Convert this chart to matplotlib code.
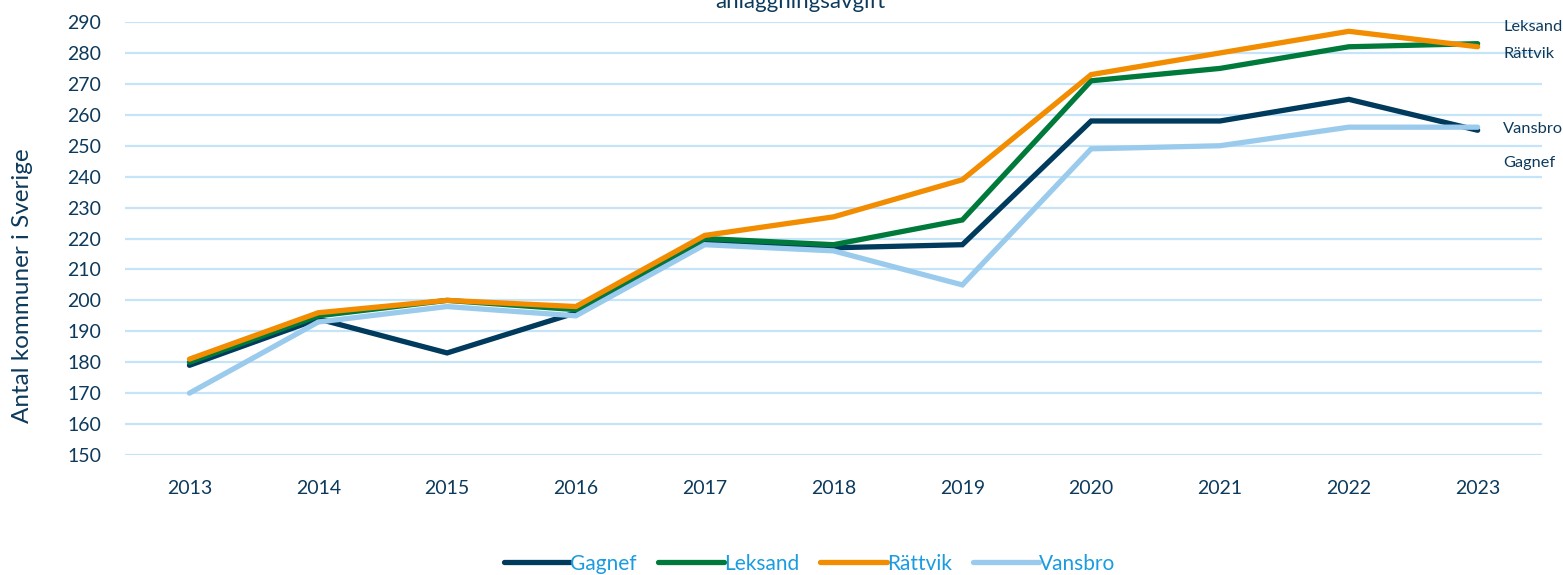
import matplotlib.pyplot as plt

# data
years = ["2013", "2014", "2015", "2016", "2017", "2018", "2019", "2020", "2021", "2022", "2023"]
gagnef = [179, 194, 183, 196, 219, 217, 218, 258, 258, 265, 255]
leksand = [180, 195, 200, 197, 220, 218, 226, 271, 275, 282, 283]
rattvik = [181, 196, 200, 198, 221, 227, 239, 273, 280, 287, 282]
vansbro = [170, 193, 198, 195, 218, 216, 205, 249, 250, 256, 256]

# end labels as placed in the original (not aligned to lines)
end_labels = ["Leksand", "Rättvik", "Vansbro", "Gagnef"]
end_label_y = [288.3, 279.5, 255.5, 244.5]

plt.rcParams['font.family'] = ['Lato', 'DejaVu Sans']

navy = "#0d3a5c"
fig = plt.figure(figsize=(15.63, 5.75), dpi=100)
ax = fig.add_axes([0.08, 0.2087, 0.9066, 0.753])

x = range(len(years))
series = [("Gagnef", gagnef, "#003a5d"),
          ("Leksand", leksand, "#007a3b"),
          ("Rättvik", rattvik, "#f28c00"),
          ("Vansbro", vansbro, "#9bcbec")]
for name, vals, col in series:
    ax.plot(x, vals, color=col, lw=3.8, label=name, solid_capstyle='round',
            solid_joinstyle='miter')

ax.set_xlim(-0.5, len(years) - 0.5)
ax.set_ylim(150, 290)
ax.set_yticks(range(150, 291, 10))
ax.set_xticks(list(x))
ax.set_xticklabels(years)
ax.yaxis.grid(True, color="#c6e4f8", lw=1.6)
ax.set_axisbelow(True)
for sp in ax.spines.values():
    sp.set_visible(False)
ax.tick_params(axis='both', length=0, labelsize=14, labelcolor=navy)
ax.tick_params(axis='y', pad=17)
ax.tick_params(axis='x', pad=18)

ax.set_ylabel("Antal kommuner i Sverige", fontsize=17.5, color=navy)
ax.yaxis.set_label_coords(-0.065, 0.39)

for lab, yy in zip(end_labels, end_label_y):
    ax.text(len(years) - 1 + 0.2, yy, lab, fontsize=11.8, color=navy, va='center', ha='left')

fig.text(0.512, 0.997, "anläggningsavgift", fontsize=16, color=navy, ha='center', va='center')

leg = fig.legend(loc='lower center', bbox_to_anchor=(0.518, -0.03), ncol=4, frameon=False,
                 fontsize=15, handlelength=3.2, handletextpad=0.0, columnspacing=1.0)
for t in leg.get_texts():
    t.set_color("#1a9ce0")

fig.savefig("out.png", dpi=100)
